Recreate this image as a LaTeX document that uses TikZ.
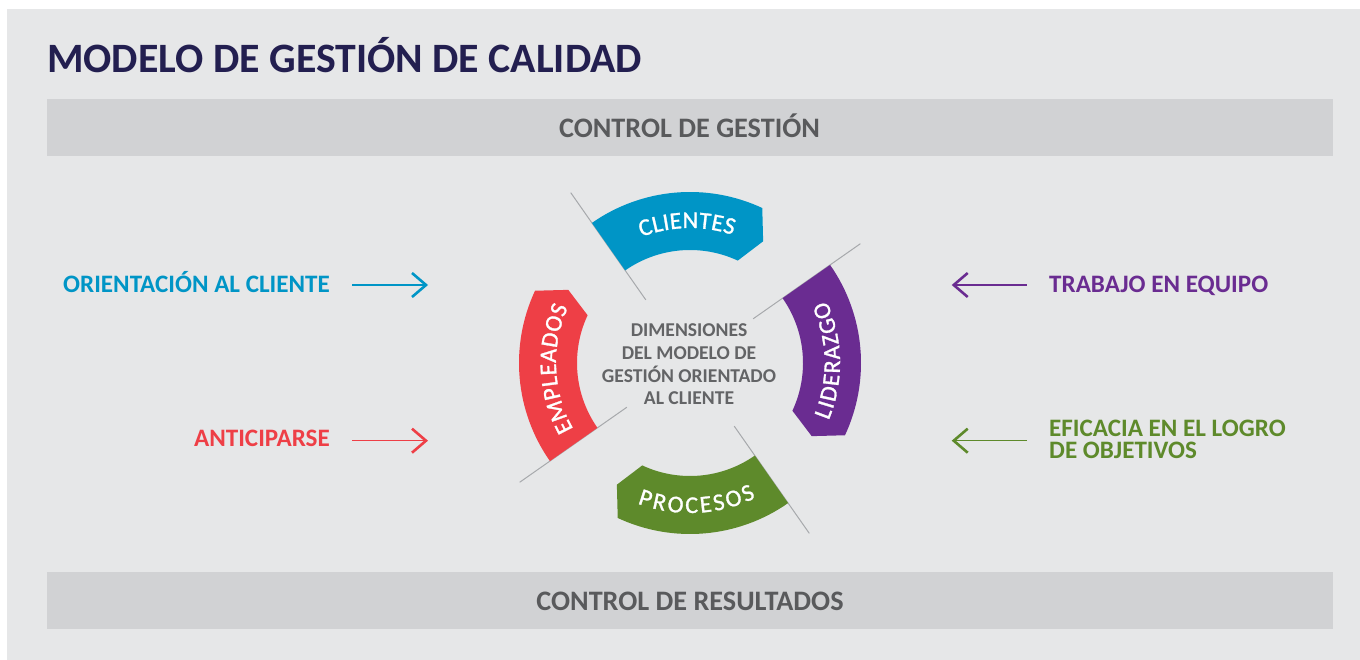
\documentclass[tikz,border=0pt]{standalone}
\usepackage{fontspec}
\setmainfont{Carlito}
\newfontfamily\segff[FakeBold=1.2]{Carlito}
\usetikzlibrary{calc,arrows.meta,decorations.text}
\definecolor{cbg}{HTML}{E6E7E8}
\definecolor{cbar}{HTML}{D1D2D4}
\definecolor{ctitle}{HTML}{231F50}
\definecolor{cbartext}{HTML}{595A5C}
\definecolor{cblue}{HTML}{0095C6}
\definecolor{cred}{HTML}{EE3F46}
\definecolor{cpurple}{HTML}{6A2C91}
\definecolor{cgreen}{HTML}{5E8A2B}
\definecolor{cgline}{HTML}{A7A9AC}
\definecolor{ccenter}{HTML}{636466}
\newcommand\segfont{\segff\fontsize{24}{24}\selectfont}
\tikzset{
  lbl/.style={font=\fontsize{25.1}{22.6}\selectfont\bfseries, inner sep=0pt},
  bartxt/.style={font=\fontsize{28.2}{28}\selectfont\bfseries, text=cbartext, inner sep=0pt},
  barbox/.style={fill=cbar, draw=none},
  arr/.style={line width=1.1pt, -{Straight Barb[length=14pt,width=24pt,line width=2.6pt]}},
  gline/.style={draw=cgline, line width=1pt},
  segtext/.style={decorate, decoration={text along path, text color=white, text align={fit to path}}}
}
\begin{document}
\begin{tikzpicture}[x=1pt,y=1pt]
\useasboundingbox (0,0) rectangle (1360,-660);
\fill[white] (0,0) rectangle (1360,-660);
\fill[cbg] (7,-9) rectangle (1360,-660);
% title
\node[anchor=base west, inner sep=0pt, text=ctitle, font=\fontsize{41.8}{41.8}\selectfont\bfseries] (title) at (47,-72.5) {MODELO DE GESTIÓN DE CALIDAD};
% bars
\node[barbox, minimum width=1286pt, minimum height=57pt, inner sep=0pt] (topbar) at (690,-127.5) {};
\node[bartxt, anchor=base] (toptxt) at (689.5,-137.3) {CONTROL DE GESTIÓN};
\node[barbox, minimum width=1286pt, minimum height=57pt, inner sep=0pt] (botbar) at (690,-600.5) {};
\node[bartxt, anchor=base] (bottxt) at (690,-610.5) {CONTROL DE RESULTADOS};
% ring
\coordinate (c) at (690,-363);
\foreach \s in {35,125,215,305}{
  \draw[gline] ($(c)+(\s:77)$) -- ($(c)+(\s:208)$);
}
\foreach \s/\col in {125/cblue,35/cpurple,-55/cgreen,215/cred}{
  \pgfmathsetmacro\segE{\s-60}
  \pgfmathsetmacro\segT{\s-66}
  \fill[\col] ($(c)+(\s:171)$) arc[start angle=\s, end angle=\segE, radius=171]
     -- ($(c)+(\segT:142)$) -- ($(c)+(\segE:113)$)
     arc[start angle=\segE, end angle=\s, radius=113] -- cycle;
}
\path[segtext, decoration={text={|\segfont|CLIENTES}}] ($(c)+(111:135)$) arc[start angle=111, end angle=71.5, radius=135];
\path[segtext, decoration={text={|\segfont|EMPLEADOS}}] ($(c)+(209.5:134)$) arc[start angle=209.5, end angle=155.5, radius=134];
\path[segtext, decoration={text={|\segfont|LIDERAZGO}}] ($(c)+(-22.5:150)$) arc[start angle=-22.5, end angle=24.5, radius=150];
\path[segtext, decoration={text={|\segfont|PROCESOS}}] ($(c)+(-110.5:150)$) arc[start angle=-110.5, end angle=-64, radius=150];
\node[align=center, inner sep=0pt, text=ccenter, font=\fontsize{19.6}{22.7}\selectfont\bfseries] (center) at (689,-364.3) {DIMENSIONES\\DEL MODELO DE\\GESTIÓN ORIENTADO\\AL CLIENTE};
% labels
\node[lbl, text=cblue, anchor=base east] (orient) at (330,-292.3) {ORIENTACIÓN AL CLIENTE};
\node[lbl, text=cred, anchor=base east] (antic) at (330,-446.7) {ANTICIPARSE};
\node[lbl, text=cpurple, anchor=base west] (trab) at (1049,-292.3) {TRABAJO EN EQUIPO};
\node[lbl, text=cgreen, anchor=west, align=left] (efic) at (1049,-439.2) {EFICACIA EN EL LOGRO\\DE OBJETIVOS};
% arrows
\coordinate (a1s) at (352,-285); \coordinate (a1e) at (428,-285);
\coordinate (a2s) at (352,-440.7); \coordinate (a2e) at (428,-440.7);
\coordinate (a3s) at (1026.7,-285); \coordinate (a3e) at (951.7,-285);
\coordinate (a4s) at (1026.7,-440.7); \coordinate (a4e) at (951.7,-440.7);
\draw[arr, draw=cblue] (a1s) -- (a1e);
\draw[arr, draw=cred] (a2s) -- (a2e);
\draw[arr, draw=cpurple] (a3s) -- (a3e);
\draw[arr, draw=cgreen] (a4s) -- (a4e);
\end{tikzpicture}
\end{document}
